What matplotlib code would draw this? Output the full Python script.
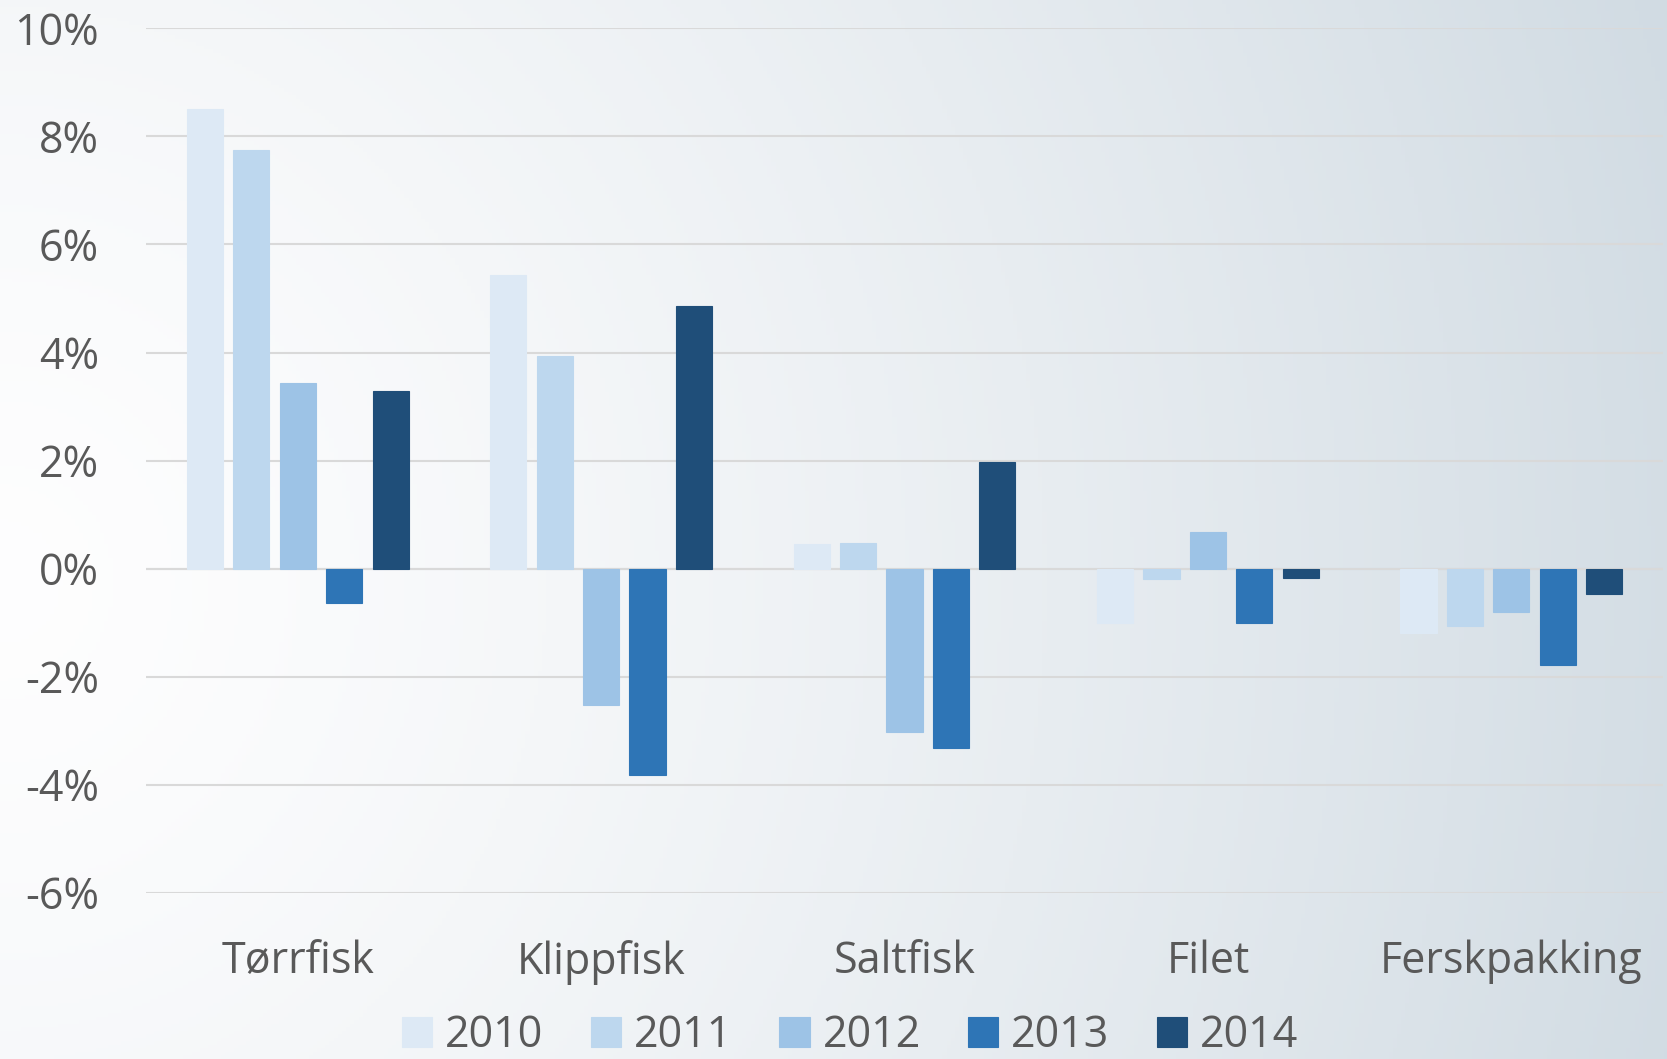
import numpy as np
import matplotlib.pyplot as plt
from matplotlib.ticker import FuncFormatter

# ============================================================
# 数据
# ============================================================
categories = ["Tørrfisk", "Klippfisk", "Saltfisk", "Filet", "Ferskpakking"]
years = ["2010", "2011", "2012", "2013", "2014"]
v2010 = [8.50, 5.44, 0.45, -1.00, -1.20]
v2011 = [7.75, 3.94, 0.47, -0.20, -1.06]
v2012 = [3.43, -2.52, -3.02, 0.67, -0.81]
v2013 = [-0.63, -3.83, -3.33, -1.01, -1.78]
v2014 = [3.29, 4.87, 1.97, -0.17, -0.47]
series = [v2010, v2011, v2012, v2013, v2014]
colors = ["#dde9f5", "#bdd7ee", "#9dc3e6", "#2e75b6", "#1f4e79"]
yticks = [-6, -4, -2, 0, 2, 4, 6, 8, 10]

TEXT = "#595959"
FONT = "Open Sans"
FS = 31
plt.rcParams["font.family"] = [FONT, "DejaVu Sans"]

fig = plt.figure(figsize=(16.67, 10.59), dpi=100)

# ---- 背景渐变 ----
bg = fig.add_axes([0, 0, 1, 1], zorder=-10)
xx, yy = np.meshgrid(np.linspace(0, 1, 400), np.linspace(0, 1, 300))
d = np.sqrt((xx * 1.0) ** 2 + ((yy - 0.45) * 0.6) ** 2)
d = np.clip(d / 1.05, 0, 1)
c0 = np.array([0.995, 0.995, 0.997])
c1 = np.array([0.82, 0.86, 0.89])
img = c0 + (c1 - c0) * d[..., None] ** 1.4
bg.imshow(img, extent=[0, 1, 0, 1], aspect="auto", origin="lower")
bg.axis("off")

ax = fig.add_axes([0.0876, 0.1572, 0.91, 0.8159])
ax.patch.set_alpha(0)

x = np.arange(len(categories))
step = 0.153
width = 0.119
for i, (vals, col, yr) in enumerate(zip(series, colors, years)):
    ax.bar(x + (i - 2) * step, vals, width=width, color=col, label=yr, zorder=3,
           edgecolor=col, linewidth=0.8)

ax.set_xlim(-0.5, len(categories) - 0.5)
ax.set_ylim(-6, 10)
ax.set_yticks(yticks)
ax.yaxis.set_major_formatter(FuncFormatter(lambda v, _: f"{v:.0f}%"))
ax.grid(axis="y", color="#d9d9d9", linewidth=1.5, zorder=0)
ax.axhline(0, color="#d9d9d9", linewidth=1.5, zorder=1)
for s in ax.spines.values():
    s.set_visible(False)

ax.set_xticks(x)
ax.set_xticklabels(categories)
ax.tick_params(axis="both", length=0, labelsize=FS, labelcolor=TEXT)
ax.tick_params(axis="y", pad=34)
ax.tick_params(axis="x", pad=34)

leg = fig.legend(loc="center", bbox_to_anchor=(0.51, 0.022), ncol=5, frameon=False,
                 fontsize=FS, handlelength=0.7, handleheight=0.7,
                 handletextpad=0.3, columnspacing=1.1, labelcolor=TEXT,
                 borderpad=0.1)

fig.savefig("out.png", dpi=100)
